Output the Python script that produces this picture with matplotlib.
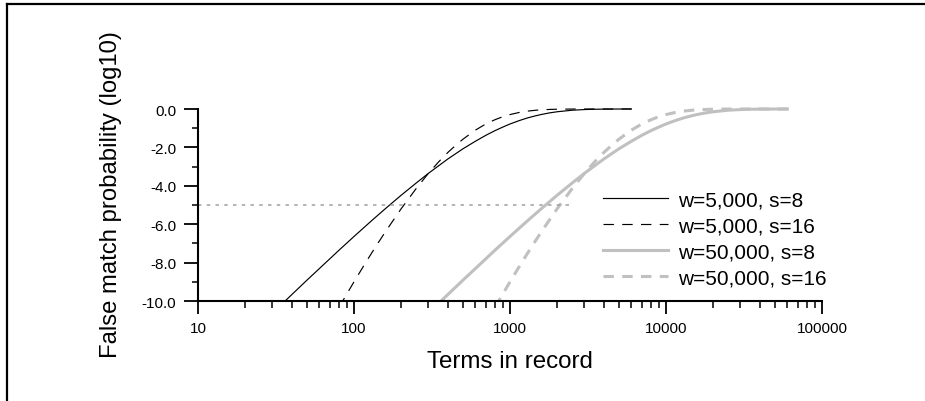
import matplotlib
matplotlib.use("Agg")
import matplotlib.pyplot as plt
from matplotlib.lines import Line2D
from matplotlib.patches import Rectangle
from matplotlib.ticker import FixedLocator, FixedFormatter, LogLocator, NullFormatter

plt.rcParams['font.family'] = ['Liberation Sans', 'DejaVu Sans']
plt.rcParams['axes.unicode_minus'] = False
plt.rcParams['lines.scale_dashes'] = False

# ---- data ----
terms_w5k_s8 = [30, 40, 50, 60, 80, 100, 130, 160, 200, 250, 300, 400, 500, 600, 700, 800, 900,
                1000, 1150, 1300, 1450, 1600, 1800, 2000, 2500, 3000, 3500, 4000, 5000, 6000]
prob_w5k_s8 = [-10.63, -9.66, -8.91, -8.31, -7.36, -6.64, -5.81, -5.17, -4.50, -3.86, -3.35, -2.60,
               -2.07, -1.68, -1.37, -1.13, -0.94, -0.78, -0.60, -0.46, -0.36, -0.28, -0.20, -0.145,
               -0.064, -0.029, -0.013, -0.006, -0.001, 0.0]

terms_w5k_s16 = [70, 80, 90, 100, 120, 140, 160, 200, 250, 300, 350, 400, 450, 500, 600, 700, 800,
                 900, 1000, 1150, 1300, 1450, 1600, 1800, 2000, 2500, 3000, 4000, 5000, 6000]
prob_w5k_s16 = [-11.16, -10.34, -9.63, -9.00, -7.94, -7.08, -6.36, -5.21, -4.15, -3.35, -2.74, -2.26,
                -1.88, -1.57, -1.10, -0.78, -0.56, -0.40, -0.29, -0.178, -0.109, -0.067, -0.042,
                -0.022, -0.012, -0.002, -0.0005, 0.0, 0.0, 0.0]

terms_w50k_s8 = [300, 400, 500, 600, 800, 1000, 1300, 1600, 2000, 2500, 3000, 4000, 5000, 6000, 7000,
                 8000, 9000, 10000, 11500, 13000, 14500, 16000, 18000, 20000, 25000, 30000, 35000,
                 40000, 50000, 60000]
prob_w50k_s8 = [-10.63, -9.66, -8.91, -8.31, -7.36, -6.64, -5.81, -5.17, -4.50, -3.86, -3.35, -2.60,
                -2.07, -1.68, -1.37, -1.13, -0.94, -0.78, -0.60, -0.46, -0.36, -0.28, -0.20, -0.145,
                -0.064, -0.029, -0.013, -0.006, -0.001, 0.0]

terms_w50k_s16 = [700, 800, 900, 1000, 1200, 1400, 1600, 2000, 2500, 3000, 3500, 4000, 4500, 5000,
                  6000, 7000, 8000, 9000, 10000, 11500, 13000, 14500, 16000, 18000, 20000, 25000,
                  30000, 40000, 50000, 60000]
prob_w50k_s16 = [-11.16, -10.34, -9.63, -9.00, -7.94, -7.08, -6.36, -5.21, -4.15, -3.35, -2.74, -2.26,
                 -1.88, -1.57, -1.10, -0.78, -0.56, -0.40, -0.29, -0.178, -0.109, -0.067, -0.042,
                 -0.022, -0.012, -0.002, -0.0005, 0.0, 0.0, 0.0]

threshold_terms = [10, 2500]
threshold_prob = [-5, -5]

labels = ["w=5,000, s=8", "w=5,000, s=16", "w=50,000, s=8", "w=50,000, s=16"]
x_ticks = [10, 100, 1000, 10000, 100000]
x_ticklabels = ["10", "100", "1000", "10000", "100000"]
y_ticks = [0, -2, -4, -6, -8, -10]
y_ticklabels = ["0.0", "-2.0", "-4.0", "-6.0", "-8.0", "-10.0"]

# ---- figure ----
W, H = 925, 402
fig = plt.figure(figsize=(W / 100, H / 100), dpi=100)
ax = fig.add_axes([198 / W, 1 - 302 / H, (822 - 198) / W, (302 - 110) / H])

black = '#000000'
gray = '#c0c0c0'
dash = (0, (7.5, 6))

l1, = ax.plot(terms_w5k_s8, prob_w5k_s8, color=black, lw=0.85, label=labels[0])
l2, = ax.plot(terms_w5k_s16, prob_w5k_s16, color=black, lw=0.85, linestyle=dash, label=labels[1])
l3, = ax.plot(terms_w50k_s8, prob_w50k_s8, color=gray, lw=2.2, label=labels[2])
l4, = ax.plot(terms_w50k_s16, prob_w50k_s16, color=gray, lw=2.2, linestyle=dash, label=labels[3])
ax.plot(threshold_terms, threshold_prob, color='#a0a0a0', lw=1.1, linestyle=(0, (2.5, 3.8)))

ax.set_xscale('log')
ax.set_xlim(x_ticks[0], x_ticks[-1])
ax.set_ylim(y_ticks[-1], y_ticks[0])

clip = Rectangle((x_ticks[0], y_ticks[-1]), x_ticks[-1] - x_ticks[0], 10.6,
                 transform=ax.transData, facecolor='none', edgecolor='none')
ax.add_patch(clip)
for ln in (l1, l2, l3, l4):
    ln.set_clip_path(clip)

ax.xaxis.set_major_locator(FixedLocator(x_ticks))
ax.xaxis.set_major_formatter(FixedFormatter(x_ticklabels))
ax.xaxis.set_minor_locator(LogLocator(base=10, subs=range(2, 10)))
ax.xaxis.set_minor_formatter(NullFormatter())
ax.yaxis.set_major_locator(FixedLocator(y_ticks))
ax.yaxis.set_major_formatter(FixedFormatter(y_ticklabels))
ax.yaxis.set_minor_locator(FixedLocator([-1, -3, -5, -7, -9]))

for s in ('top', 'right'):
    ax.spines[s].set_visible(False)
for s in ('left', 'bottom'):
    ax.spines[s].set_linewidth(1.5)

ax.tick_params(axis='x', which='major', direction='out', length=9.5, width=1.3, pad=5, labelsize=11)
ax.tick_params(axis='x', which='minor', direction='out', length=5, width=1.1)
ax.tick_params(axis='y', which='major', direction='out', length=10, width=1.3, pad=5.5, labelsize=11)
ax.tick_params(axis='y', which='minor', direction='out', length=4.5, width=1.1)

fig.text(510 / W, 1 - 368 / H, "Terms in record", ha='center', va='baseline', fontsize=17.4)
fig.text(111 / W, 1 - 195 / H, "False match probability (log10)", ha='center', va='center',
         rotation=90, fontsize=17.2)

leg = ax.legend(handles=[l1, l2, l3, l4], loc='center left',
                bbox_to_anchor=(603 / W, 1 - 240 / H), bbox_transform=fig.transFigure,
                frameon=False, fontsize=15, handlelength=3.1, handletextpad=0.5,
                labelspacing=0.33, borderpad=0, borderaxespad=0)

# frame lines around the figure (top and left only)
fig.add_artist(Line2D([7 / W, 1], [1 - 5 / H, 1 - 5 / H], transform=fig.transFigure,
                      color='black', lw=1.6, solid_capstyle='projecting'))
fig.add_artist(Line2D([7 / W, 7 / W], [0, 1 - 5 / H], transform=fig.transFigure,
                      color='black', lw=1.6, solid_capstyle='projecting'))

fig.savefig("out.png", dpi=100)
